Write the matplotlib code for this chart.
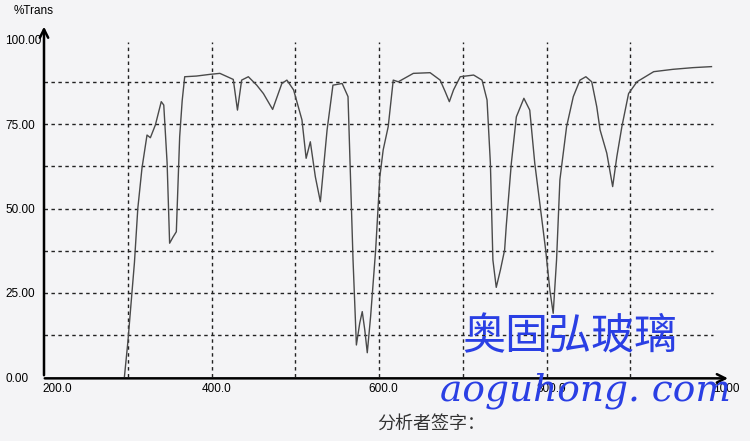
import matplotlib.pyplot as plt
from matplotlib.transforms import ScaledTranslation

# spectrum
wavelength = [296, 300, 304, 308, 312, 317, 323, 327, 333, 340, 343, 347, 350,
              354, 358, 362, 365, 368, 382, 398, 410, 426, 431, 436, 444, 454,
              462, 473, 484, 490, 498, 508, 513, 518, 524, 530, 538, 545, 556,
              563, 569, 573, 577, 580, 583, 586, 590, 596, 601, 605, 611, 617,
              623, 641, 661, 673, 679, 684, 689, 697, 713, 723, 729, 733, 736,
              740, 745, 750, 752, 758, 764, 773, 780, 786, 794, 799, 804, 808,
              812, 816, 824, 832, 840, 847, 854, 860, 864, 872, 879, 884, 890,
              898, 908, 928, 951, 975, 997]
trans = [0, 10, 22, 34, 50, 62, 71.8, 71.0, 74.8, 81.7, 80.7, 63.5, 39.7,
         41.5, 43.1, 71.3, 82.0, 89.1, 89.3, 89.8, 90.1, 88.3, 79.2, 88.1, 89.1, 86.6,
         84.1, 79.4, 87.1, 88.1, 85.2, 76.3, 64.9, 69.8, 59.4, 52.0, 73.3, 86.6, 87.1,
         83.2, 34.7, 9.5, 16.0, 19.4, 14.0, 7.2, 18.0, 37.7, 59.4, 67.4, 74.3, 88.1,
         87.6, 90.1, 90.3, 88.1, 84.7, 81.7, 85.2, 89.1, 89.6, 88.1, 82.2, 63.4, 34.7,
         26.6, 31.8, 37.7, 45.0, 63.4, 77.2, 82.7, 79.2, 63.4, 47.6, 37.7, 25.8, 18.9,
         34.7, 58.5, 74.3, 83.2, 88.1, 89.1, 87.6, 80.2, 73.3, 66.4, 56.5, 65.4, 74.3,
         84.1, 87.6, 90.6, 91.3, 91.8, 92.1]

x_ticks = [200, 400, 600, 800, 1000]
x_labels = ['200.0', '400.0', '600.0', '800.0', '1000']
y_ticks = [0, 25, 50, 75, 100]
y_labels = ['0.00', '25.00', '50.00', '75.00', '100.00']

paper = '#f4f4f6'
fig = plt.figure(figsize=(7.5, 4.41), dpi=100, facecolor=paper)
ax = fig.add_axes([44 / 750, 64 / 441, 670 / 750, 337 / 441])
ax.set_facecolor(paper)
ax.set_xlim(200, 1000)
ax.set_ylim(0, 100)

# dotted grid
grid_style = dict(color='#222222', lw=1.0, linestyles=(0, (2.5, 2.5)))
ax.vlines(range(300, 1000, 100), 0, 99.5, **grid_style)
ax.hlines([12.5, 25, 37.5, 50, 62.5, 75, 87.5], 200, 999, **grid_style)

ax.plot(wavelength, trans, color='#4a4a4a', lw=1.0)

for s in ax.spines.values():
    s.set_visible(False)
arrow = dict(arrowstyle='->,head_length=0.6,head_width=0.3', lw=1.8, color='black')
ax.annotate('', xy=(0, 1.048), xytext=(0, -0.003), xycoords='axes fraction',
            arrowprops=arrow, annotation_clip=False)
ax.annotate('', xy=(1.025, -0.004), xytext=(-0.003, -0.004), xycoords='axes fraction',
            arrowprops=arrow, annotation_clip=False)

font = 'Liberation Sans'
ax.set_yticks(y_ticks, y_labels, fontfamily=font, fontsize=8.5, ha='left')
ax.tick_params(axis='y', length=0, pad=28)
ax.set_xticks(x_ticks, x_labels, fontfamily=font, fontsize=8.5, ha='left')
ax.tick_params(axis='x', length=0, pad=4)
for lab, dx in zip(ax.get_xticklabels(), [-2, -10, -11, -10, -1]):
    lab.set_transform(lab.get_transform() + ScaledTranslation(dx / 100, 0, fig.dpi_scale_trans))

fig.text(14 / 750, 1 - 11 / 441, '%Trans', fontfamily=font, fontsize=8.5, va='center')

# watermark and signature line
fig.text(462 / 750, 1 - 337 / 441, '奥固弘玻璃', fontfamily='Noto Sans CJK SC',
         fontsize=31, fontweight='medium', color='#2a3fe4', va='center', ha='left')
fig.text(440 / 750, 1 - 391 / 441, 'aoguhong. com', fontfamily='DejaVu Serif',
         style='italic', fontsize=27, color='#2a3fe4', va='center', ha='left')
fig.text(377 / 750, 1 - 424 / 441, '分析者签字：', fontfamily='Noto Sans CJK SC',
         fontsize=13, color='#333333', va='center', ha='left')

fig.savefig('out.png', dpi=100, facecolor=paper)
plt.close()
